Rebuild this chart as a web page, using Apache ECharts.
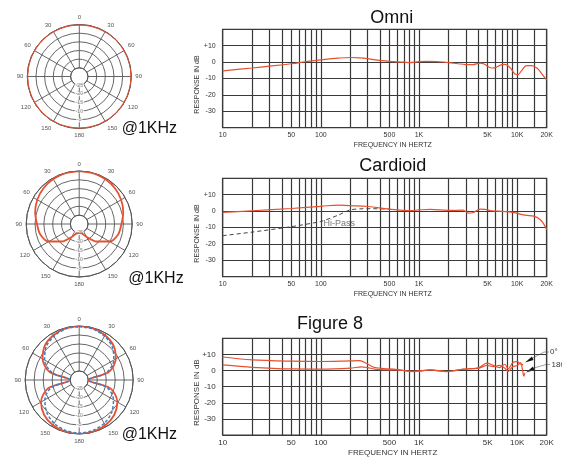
<!DOCTYPE html>
<html><head><meta charset="utf-8">
<script src="https://cdn.jsdelivr.net/npm/echarts@6/dist/echarts.min.js"></script>
<style>html,body{margin:0;padding:0;background:#fff}#c{width:562px;height:458px}</style>
</head><body><div id="c"></div>
<script>
// ---- data ----
const gridFreqs = [10,20,30,40,50,60,70,80,90,100,200,300,400,500,600,700,800,900,1000,2000,3000,4000,5000,6000,7000,8000,9000,10000,15000,20000];
const freqLabelValues = [10,50,100,500,1000,5000,10000,20000];
const dbTickLabels = ['+10','0','-10','-20','-30'];

const omniFreq = [10,20,30,50,70,100,150,200,250,300,400,500,700,800,1000,1200,1600,2000,2500,3000,3500,4200,4600,5500,6000,7000,7500,8500,9500,10200,11000,12500,14000,16000,18000,20000];
const omniDb   = [-5.3,-3.6,-2.5,-1.0,0.2,1.4,2.4,2.8,2.6,2.1,1.0,0.4,0.0,-0.3,0.3,0.5,0.2,-0.3,-1.0,-1.5,-1.6,-0.6,-1.2,-3.6,-3.4,-1.5,-1.4,-3.5,-7.2,-7.6,-5.5,-2.2,-2.2,-3.8,-7.5,-11.0];

const cardFreq = [10,20,50,100,150,200,300,500,800,1000,1300,2000,2800,3200,3500,4200,4700,5500,7000,9000,12000,15000,17000,18500,20000];
const cardDb   = [-0.8,0.2,1.6,2.9,3.7,3.3,2.8,1.2,0.3,0.7,1.0,0.4,0.6,-1.2,-1.0,1.2,1.0,0.2,-0.2,-0.8,-2.5,-3.2,-5.0,-7.5,-11.4];
const hiPassFreq = [10,20,50,100,150,200,300,500];
const hiPassDb   = [-15,-12.8,-9.5,-6.3,-2.5,0.8,1.5,1.2];

const fig0Freq = [10,20,50,100,200,250,290,340,430,500,600,870,1000,1300,1500,1900,2200,2800,3500,4100,4900,5700,6600,7500,8100,9000,10000,10800,11500];
const fig0Db   = [8.4,6.6,5.8,5.6,6.0,6.1,4.5,2.2,1.2,1.0,0.6,-0.5,-0.3,0.4,0.1,-0.6,-0.3,0.8,1.2,1.8,4.6,3.2,1.8,3.9,1.0,4.8,5.5,4.0,3.5];
const fig180Freq = [10,20,50,100,200,260,300,350,430,500,600,870,1000,1300,1500,1900,2200,2800,3500,4100,4900,5700,6600,7500,8100,9000,10000,10800,11300,11700,12000];
const fig180Db   = [3.5,2.0,1.0,0.9,1.5,2.3,1.8,0.9,0.5,0.4,0.4,-0.7,-0.4,0.5,0.0,-0.7,-0.3,0.9,1.2,1.5,3.2,2.4,3.2,1.4,-0.6,2.4,3.1,5.0,1.0,-3.5,-1.5];

const polarAngles = [0,15,30,45,60,75,90,105,120,135,150,165,180,195,210,225,240,255,270,285,300,315,330,345,360];
const omniPolarDb = [0,0,0,0,0,0,0,0,0,0,0,0,0,0,0,0,0,0,0,0,0,0,0,0,0];
const cardPolarDb = [0,-0.2,-0.6,-1.4,-2.6,-4.2,-6.1,-7.2,-10.2,-16,-21.5,-24.5,-25,-24.5,-21.5,-16,-10.2,-7.2,-6.1,-4.2,-2.6,-1.4,-0.6,-0.2,0];
const fig8RedDb   = [0,-0.3,-1.3,-3,-6.5,-13,-25,-12,-5.5,-2.5,-1,-0.3,0,-0.3,-1,-2.5,-5.5,-12,-25,-13,-6.5,-3,-1.3,-0.3,0];
const fig8BlueDb  = [-0.3,-0.7,-1.9,-4,-7.8,-14.5,-25,-14,-8,-4.5,-2.2,-1,-0.5,-1,-2.2,-4.5,-8,-14,-25,-14.5,-7.8,-4,-1.9,-0.7,-0.3];
const ringDbLabels = [-25,-20,-15,-10,-5];

// ---- chart ----
const RED = '#e8502f', BLUE = '#3b7fc4', GRID = '#3a3a3a', POL = '#555';
const pairs = (xs, ys) => xs.map((x, i) => [x, ys[i]]);
const polPairs = (ds) => polarAngles.map((a, i) => [ds[i], a]);

const grids = [
  {left: 222.7, right: 15.3, top: 29.3, height: 98.4},
  {left: 222.7, right: 15.3, top: 178.3, height: 98.4},
  {left: 222.7, right: 15.3, top: 338.3, height: 97.7}
];
const fs = [7, 7, 8];
const xAxes = grids.map((g, i) => ({
  type: 'log', gridIndex: i, min: 10, max: 20000, logBase: 10,
  name: 'FREQUENCY IN HERTZ', nameLocation: 'middle', nameGap: 14, nameMoveOverlap: false,
  nameTextStyle: {fontSize: fs[i], color: '#333', padding: [0, 0, 0, 16]},
  axisLine: {show: true, lineStyle: {color: GRID, width: 1}},
  axisTick: {show: false, customValues: gridFreqs},
  splitLine: {show: true, lineStyle: {color: GRID, width: 1.2}},
  axisLabel: {customValues: freqLabelValues, fontSize: fs[i], color: '#333', margin: 4,
    formatter: v => v >= 1000 ? (v / 1000) + 'K' : String(v)}
}));
const yAxes = grids.map((g, i) => ({
  type: 'value', gridIndex: i, min: -40, max: 20, interval: 10,
  name: 'RESPONSE IN dB', nameLocation: 'middle', nameGap: 22, nameRotate: 90, nameMoveOverlap: false,
  nameTextStyle: {fontSize: fs[i], color: '#333', padding: [0, 12, 0, 0]},
  axisLine: {show: true, lineStyle: {color: GRID, width: 1}},
  axisTick: {show: false},
  splitLine: {show: true, lineStyle: {color: GRID, width: 1.2}},
  axisLabel: {fontSize: fs[i], color: '#333', margin: 7,
    formatter: v => (v === 20 || v === -40) ? '' : dbTickLabels[[10,0,-10,-20,-30].indexOf(v)]}
}));

const polars = [
  {center: [79.3, 76.5], radius: [52/6, 52]},
  {center: [79.2, 224], radius: [53/6, 53]},
  {center: [79.2, 380], radius: [54/6, 54]}
];
const angleAxes = polars.map((p, i) => ({
  type: 'value', polarIndex: i, min: 0, max: 360, interval: 30, startAngle: 90, clockwise: true,
  axisLine: {lineStyle: {color: POL, width: 1}},
  axisTick: {show: false},
  splitLine: {show: true, lineStyle: {color: POL, width: 0.9}},
  axisLabel: {fontSize: 6, color: '#555', margin: 4,
    formatter: v => v === 360 ? '' : String(v > 180 ? 360 - v : v)}
}));
const radiusAxes = polars.map((p, i) => ({
  type: 'value', polarIndex: i, min: -25, max: 0, interval: 5,
  axisLine: {show: false}, axisTick: {show: false}, axisLabel: {show: false},
  splitLine: {show: true, lineStyle: {color: POL, width: 0.9}}
}));

const lineS = (gi, xs, ys, extra) => Object.assign({
  type: 'line', xAxisIndex: gi, yAxisIndex: gi, data: pairs(xs, ys), smooth: 0.4,
  symbol: 'none', lineStyle: {color: RED, width: 1.2}, z: 5
}, extra || {});
const polLine = (pi, ds, extra) => Object.assign({
  type: 'line', coordinateSystem: 'polar', polarIndex: pi, data: polPairs(ds), smooth: 0.3,
  symbol: 'none', lineStyle: {color: RED, width: 1.8}, z: 5
}, extra || {});
const ringLabels = (pi) => ({
  type: 'scatter', coordinateSystem: 'polar', polarIndex: pi, symbolSize: 0, z: 4, silent: true,
  data: ringDbLabels.map(v => [v, 180]),
  label: {show: true, position: 'inside', formatter: p => String(p.value[0]), fontSize: 5, color: '#666',
    backgroundColor: '#fff', padding: [0, 1]}
});

const series = [
  lineS(0, omniFreq, omniDb),
  lineS(1, cardFreq, cardDb),
  lineS(1, hiPassFreq, hiPassDb, {smooth: 0.2, lineStyle: {color: '#444', width: 1, type: [4, 3]}, z: 4}),
  {type: 'scatter', xAxisIndex: 1, yAxisIndex: 1, symbolSize: 1, itemStyle: {color: 'rgba(0,0,0,0)'}, silent: true, z: 6,
    data: [[105, -7.4]],
    label: {show: true, formatter: 'Hi-Pass', position: 'right', distance: 0, fontSize: 9, color: '#555'}},
  lineS(2, fig0Freq, fig0Db, {smooth: 0.3}),
  lineS(2, fig180Freq, fig180Db, {smooth: 0.3}),
  polLine(0, omniPolarDb, {smooth: 0.5}),
  polLine(1, cardPolarDb),
  polLine(2, fig8RedDb),
  polLine(2, fig8BlueDb, {lineStyle: {color: BLUE, width: 1.5, type: [3, 2]}, z: 6}),
  ringLabels(0), ringLabels(1), ringLabels(2)
];

const T = (text, x, y, size, align) => ({type: 'text', x, y, style: {text, fill: '#111', font: size + 'px "Liberation Sans", Arial, sans-serif', textAlign: align || 'center', textVerticalAlign: 'bottom'}});
const graphic = [
  T('Omni', 391.7, 26.7, 18),
  T('Cardioid', 392.7, 174.7, 18),
  T('Figure 8', 330, 333.3, 18),
  T('@1KHz', 121.7, 136.3, 16, 'left'),
  T('@1KHz', 128.3, 286.3, 16, 'left'),
  T('@1KHz', 121.7, 443, 16, 'left'),
  {type: 'text', x: 550, y: 352, style: {text: '0°', fill: '#333', font: '8px "Liberation Sans", Arial', textAlign: 'left', textVerticalAlign: 'middle'}},
  {type: 'text', x: 551.5, y: 364.5, style: {text: '180', fill: '#333', font: '8px "Liberation Sans", Arial', textAlign: 'left', textVerticalAlign: 'middle'}},
  {type: 'polyline', shape: {points: [[549, 352], [544, 352], [531, 359]]}, style: {stroke: '#888', lineWidth: 0.8, fill: null}},
  {type: 'polyline', shape: {points: [[550, 364.5], [546, 364.5], [534, 368]]}, style: {stroke: '#888', lineWidth: 0.8, fill: null}},
  {type: 'polygon', shape: {points: [[525, 362.5], [532, 356.5], [533.5, 360]]}, style: {fill: '#111'}},
  {type: 'polygon', shape: {points: [[526, 372.5], [533, 366.5], [534.5, 370]]}, style: {fill: '#111'}}
];

const chart = echarts.init(document.getElementById('c'), null, {renderer: 'canvas'});
chart.setOption({
  animation: false,
  textStyle: {fontFamily: '"Liberation Sans", Arial, sans-serif'},
  grid: grids.map(g => Object.assign({show: true, borderColor: GRID, borderWidth: 1.2, containLabel: false}, g)),
  xAxis: xAxes, yAxis: yAxes,
  polar: polars, angleAxis: angleAxes, radiusAxis: radiusAxes,
  series, graphic
});
</script></body></html>
